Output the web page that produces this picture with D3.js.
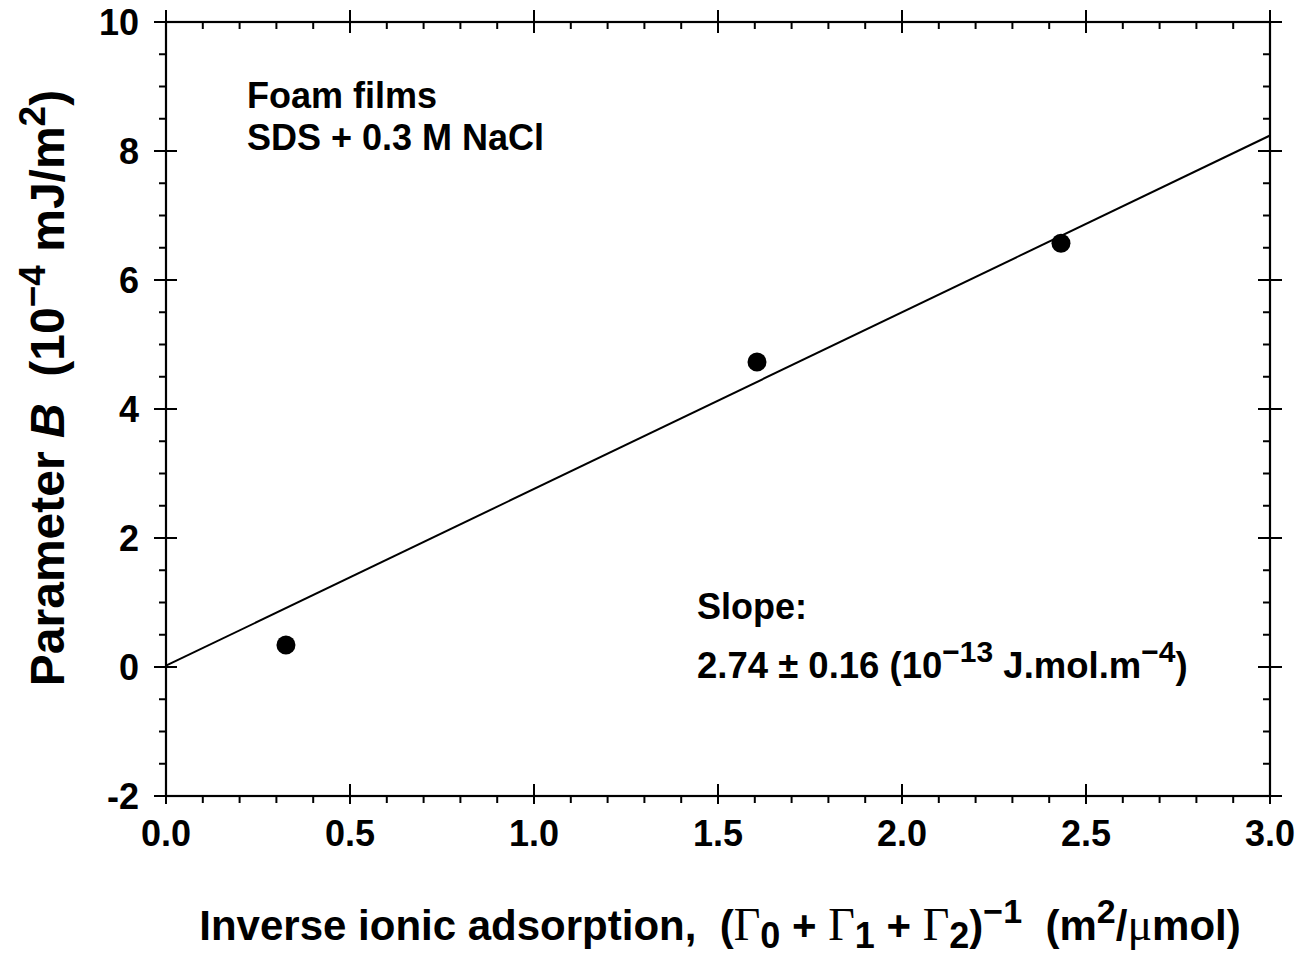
<!DOCTYPE html>
<html>
<head>
<meta charset="utf-8">
<script src="https://cdn.jsdelivr.net/npm/d3@7"></script>
<style>
  body { margin: 0; background: #fff; }
  text { font-family: "Liberation Sans", Arial, sans-serif; font-weight: bold; fill: #000; white-space: pre; }
</style>
</head>
<body>
<svg id="chart" width="1299" height="959"></svg>
<script>
// Data
const pointsX = [0.326, 1.606, 2.432];
const pointsY = [0.34, 4.73, 6.57];
const fitSlope = 2.74;
const fitIntercept = 0.02;
const fitRange = [0, 3];
const xTicks = [0.0, 0.5, 1.0, 1.5, 2.0, 2.5, 3.0];
const yTicks = [-2, 0, 2, 4, 6, 8, 10];
const xDomain = [0, 3];
const yDomain = [-2, 10];

const svg = d3.select("#chart");
const L = 166, R = 1270, T = 22, B = 796;
const x = d3.scaleLinear().domain(xDomain).range([L, R]);
const y = d3.scaleLinear().domain(yDomain).range([B, T]);

const xMinor = d3.range(0, 3.0001, 0.1).map(v => +v.toFixed(2)).filter(v => !xTicks.some(t => Math.abs(t - v) < 1e-6));
const yMinor = d3.range(-2, 10.0001, 0.5).map(v => +v.toFixed(2)).filter(v => !yTicks.some(t => Math.abs(t - v) < 1e-6));

const g = svg.append("g");
// frame
g.append("rect").attr("x", L).attr("y", T).attr("width", R - L).attr("height", B - T)
  .attr("fill", "none").attr("stroke", "#000").attr("stroke-width", 2.2);

const tickStyle = sel => sel.attr("stroke", "#000").attr("stroke-width", 2);
// major ticks crossing
xTicks.forEach(v => {
  g.append("line").attr("x1", x(v)).attr("x2", x(v)).attr("y1", B - 12).attr("y2", B + 8).call(tickStyle);
  g.append("line").attr("x1", x(v)).attr("x2", x(v)).attr("y1", T - 12).attr("y2", T + 11).call(tickStyle);
});
yTicks.forEach(v => {
  g.append("line").attr("x1", L - 12).attr("x2", L + 11).attr("y1", y(v)).attr("y2", y(v)).call(tickStyle);
  g.append("line").attr("x1", R - 12).attr("x2", R + 12).attr("y1", y(v)).attr("y2", y(v)).call(tickStyle);
});
// minor ticks
xMinor.forEach(v => {
  g.append("line").attr("x1", x(v)).attr("x2", x(v)).attr("y1", B).attr("y2", B + 7).call(tickStyle);
  g.append("line").attr("x1", x(v)).attr("x2", x(v)).attr("y1", T).attr("y2", T + 7).call(tickStyle);
});
yMinor.forEach(v => {
  g.append("line").attr("x1", L - 7).attr("x2", L).attr("y1", y(v)).attr("y2", y(v)).call(tickStyle);
  g.append("line").attr("x1", R - 7).attr("x2", R).attr("y1", y(v)).attr("y2", y(v)).call(tickStyle);
});

// tick labels
g.selectAll(".xl").data(xTicks).enter().append("text")
  .attr("x", d => x(d)).attr("y", B + 50).attr("text-anchor", "middle")
  .attr("font-size", 36).text(d => d.toFixed(1));
g.selectAll(".yl").data(yTicks).enter().append("text")
  .attr("x", 139).attr("y", d => y(d) + 13).attr("text-anchor", "end")
  .attr("font-size", 36).text(d => String(d));

// fit line
g.append("line")
  .attr("x1", x(fitRange[0])).attr("y1", y(fitIntercept + fitSlope * fitRange[0]))
  .attr("x2", x(fitRange[1])).attr("y2", y(fitIntercept + fitSlope * fitRange[1]))
  .attr("stroke", "#000").attr("stroke-width", 2);

// points
g.selectAll(".pt").data(pointsX.map((v, i) => [v, pointsY[i]])).enter().append("circle")
  .attr("cx", d => x(d[0])).attr("cy", d => y(d[1])).attr("r", 9.5).attr("fill", "#000");

// annotations
g.append("text").attr("x", 247).attr("y", 108).attr("font-size", 36).text("Foam films");
g.append("text").attr("x", 247).attr("y", 150).attr("font-size", 36).text("SDS + 0.3 M NaCl");
g.append("text").attr("x", 697).attr("y", 619).attr("font-size", 36).text("Slope:");
const s = g.append("text").attr("x", 697).attr("y", 678).attr("font-size", 36.5);
s.append("tspan").text("2.74 ± 0.16 (10");
s.append("tspan").attr("dy", -16).attr("font-size", 30).text("−13");
s.append("tspan").attr("dy", 16).text(" J.mol.m");
s.append("tspan").attr("dy", -16).attr("font-size", 30).text("−4");
s.append("tspan").attr("dy", 16).text(")");

// x axis title
const serif = "Liberation Serif, Times New Roman, serif";
const xt = g.append("text").attr("x", 720).attr("y", 940).attr("text-anchor", "middle").attr("font-size", 42);
xt.append("tspan").text("Inverse ionic adsorption,\u00A0\u00A0(");
xt.append("tspan").attr("font-family", serif).attr("font-weight", "normal").attr("font-size", 46).text("Γ");
xt.append("tspan").attr("dy", 8).attr("font-size", 36).text("0");
xt.append("tspan").attr("dy", -8).text(" + ");
xt.append("tspan").attr("font-family", serif).attr("font-weight", "normal").attr("font-size", 46).text("Γ");
xt.append("tspan").attr("dy", 8).attr("font-size", 36).text("1");
xt.append("tspan").attr("dy", -8).text(" + ");
xt.append("tspan").attr("font-family", serif).attr("font-weight", "normal").attr("font-size", 46).text("Γ");
xt.append("tspan").attr("dy", 8).attr("font-size", 36).text("2");
xt.append("tspan").attr("dy", -8).text(")");
xt.append("tspan").attr("dy", -17).attr("font-size", 34).text("−1");
xt.append("tspan").attr("dy", 17).text("\u00A0\u00A0(m");
xt.append("tspan").attr("dy", -17).attr("font-size", 34).text("2");
xt.append("tspan").attr("dy", 17).text("/");
xt.append("tspan").attr("font-family", serif).attr("font-weight", "normal").attr("font-size", 46).text("μ");
xt.append("tspan").text("mol)");

// y axis title
const yt = g.append("text").attr("transform", "translate(64,388) rotate(-90)")
  .attr("text-anchor", "middle").attr("font-size", 48);
yt.append("tspan").text("Parameter ");
yt.append("tspan").attr("font-style", "italic").text("B");
yt.append("tspan").text("\u00A0\u00A0(10");
yt.append("tspan").attr("dy", -19).attr("font-size", 37).text("−4");
yt.append("tspan").attr("dy", 19).text(" mJ/m");
yt.append("tspan").attr("dy", -19).attr("font-size", 37).text("2");
yt.append("tspan").attr("dy", 19).text(")");
</script>
</body>
</html>
